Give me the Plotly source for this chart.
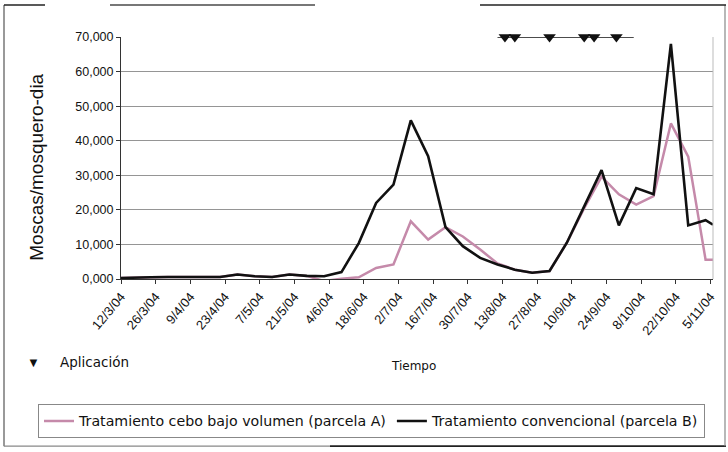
import plotly.graph_objects as go

# sampling dates (weekly, Wednesdays) and fly counts per trap-day
fechas = [
    "2004-03-12", "2004-03-17", "2004-03-24", "2004-03-31", "2004-04-07",
    "2004-04-14", "2004-04-21", "2004-04-28", "2004-05-05", "2004-05-12",
    "2004-05-19", "2004-05-26", "2004-06-02", "2004-06-09", "2004-06-16",
    "2004-06-23", "2004-06-30", "2004-07-07", "2004-07-14", "2004-07-21",
    "2004-07-28", "2004-08-04", "2004-08-11", "2004-08-18", "2004-08-25",
    "2004-09-01", "2004-09-08", "2004-09-15", "2004-09-22", "2004-09-29",
    "2004-10-06", "2004-10-13", "2004-10-20", "2004-10-27", "2004-11-03",
    "2004-11-06",
]
parcela_b = [
    300, 300, 500, 600, 600, 600, 600, 1300, 800, 600,
    1300, 900, 800, 2000, 10400, 22000, 27300, 45900, 35500, 15000,
    9500, 6100, 4200, 2700, 1800, 2300, 10500, 21000, 31500, 15500,
    26300, 24500, 68000, 15500, 17000, 15700,
]
parcela_a = [
    300, 300, 500, 600, 600, 600, 600, 1300, 800, 600,
    1300, 900, -600, 100, 500, 3200, 4200, 16700, 11400, 15000,
    12300, 8500, 4500, 2700, 1800, 2300, 10500, 20500, 29600, 24500,
    21500, 24000, 45000, 35400, 5600, 5600,
]

# application dates
aplicaciones = ["2004-08-14", "2004-08-18", "2004-09-01", "2004-09-15", "2004-09-19", "2004-09-28"]
periodo_aplic = ["2004-08-11", "2004-10-05"]

# axis ticks
x_ticks = [
    "2004-03-12", "2004-03-26", "2004-04-09", "2004-04-23", "2004-05-07", "2004-05-21",
    "2004-06-04", "2004-06-18", "2004-07-02", "2004-07-16", "2004-07-30", "2004-08-13",
    "2004-08-27", "2004-09-10", "2004-09-24", "2004-10-08", "2004-10-22", "2004-11-05",
]
x_labels = [
    "12/3/04", "26/3/04", "9/4/04", "23/4/04", "7/5/04", "21/5/04", "4/6/04", "18/6/04",
    "2/7/04", "16/7/04", "30/7/04", "13/8/04", "27/8/04", "10/9/04", "24/9/04", "8/10/04",
    "22/10/04", "5/11/04",
]
y_ticks = [0, 10000, 20000, 30000, 40000, 50000, 60000, 70000]
y_labels = ["0,000", "10,000", "20,000", "30,000", "40,000", "50,000", "60,000", "70,000"]

W, H = 728, 452
L, R, T, B = 121, 15, 37, 172.5
pw, ph = W - L - R, H - T - B


def px(x):
    return (x - L) / pw


def py(y):
    return (H - B - y) / ph


def seg(x0, y0, x1, y1, color="#555555", width=1.2):
    return dict(type="line", xref="paper", yref="paper",
                x0=px(x0), x1=px(x1), y0=py(y0), y1=py(y1),
                line=dict(color=color, width=width))


font = "Arial, Liberation Sans, sans-serif"
wide = "DejaVu Sans, sans-serif"
fig = go.Figure()

fig.add_trace(go.Scatter(
    x=fechas, y=parcela_a, mode="lines",
    name="Tratamiento cebo bajo volumen (parcela A)",
    line=dict(color="#c58aaa", width=2.5),
))
fig.add_trace(go.Scatter(
    x=fechas, y=parcela_b, mode="lines",
    name="Tratamiento convencional (parcela B)",
    line=dict(color="#111111", width=2.6),
))
fig.add_trace(go.Scatter(
    x=periodo_aplic, y=[70000, 70000], mode="lines",
    line=dict(color="#111111", width=1.5), showlegend=False, hoverinfo="skip",
))
fig.add_trace(go.Scatter(
    x=aplicaciones, y=[70000] * len(aplicaciones), mode="markers",
    marker=dict(symbol="triangle-down", size=11, color="#111111"),
    showlegend=False, cliponaxis=False, name="Aplicación",
))

shapes = [
    # scanned page frame
    seg(4, 5, 4, 447),
    seg(4, 447, 330, 447, "#888888"),
    seg(330, 447, 726, 447, "#222222", 1.6),
    seg(725, 5, 725, 447, "#888888"),
    seg(4, 5, 45, 5, "#222222", 1.6),
    seg(110, 5, 315, 5, "#777777", 2),
    seg(480, 5, 726, 5, "#222222", 1.6),
    # right border of plot area
    dict(type="line", xref="paper", yref="paper", x0=1, x1=1, y0=0, y1=1,
         line=dict(color="#bbbbbb", width=1)),
]

annotations = [
    dict(text="Moscas/mosquero-dia", xref="paper", yref="paper",
         x=px(37), y=py(168), xanchor="center", yanchor="middle",
         textangle=-90, showarrow=False,
         font=dict(family=font, size=19, color="#111111")),
    dict(text="Tiempo", xref="paper", yref="paper", x=px(413), y=py(367),
         xanchor="center", yanchor="middle", showarrow=False,
         font=dict(family=wide, size=12, color="#111111")),
    dict(text="▼", xref="paper", yref="paper", x=px(33), y=py(363),
         xanchor="center", yanchor="middle", showarrow=False,
         font=dict(size=13, color="#111111")),
    dict(text="Aplicación", xref="paper", yref="paper", x=px(58), y=py(363),
         xanchor="left", yanchor="middle", showarrow=False,
         font=dict(family=wide, size=13.5, color="#111111")),
]

fig.update_layout(
    width=W, height=H,
    margin=dict(l=L, r=R, t=T, b=B, autoexpand=False),
    paper_bgcolor="white", plot_bgcolor="white",
    font=dict(family=font, size=12, color="#111111"),
    showlegend=True,
    legend=dict(
        orientation="h", x=px(38), xanchor="left", y=py(422), yanchor="middle",
        bordercolor="#888888", borderwidth=1, itemwidth=30,
        font=dict(family=wide, size=14.2, color="#111111"),
    ),
    xaxis=dict(
        type="date", range=["2004-03-12", "2004-11-06"],
        tickvals=x_ticks, ticktext=x_labels, tickangle=-50,
        ticks="outside", ticklen=4, tickcolor="#333333",
        showgrid=False, showline=True, linecolor="#333333", linewidth=1,
        tickfont=dict(size=13), zeroline=False, automargin=False,
    ),
    yaxis=dict(
        range=[0, 70000], tickvals=y_ticks, ticktext=y_labels,
        ticks="outside", ticklen=4, tickcolor="#333333",
        showgrid=True, gridcolor="#959595", gridwidth=1,
        showline=True, linecolor="#333333", linewidth=1,
        zeroline=False, tickfont=dict(size=12.5), automargin=False,
    ),
    shapes=shapes,
    annotations=annotations,
)

fig.write_html(
    "out.html",
    config={"displayModeBar": False},
    post_script="document.body.style.margin='0';",
)
